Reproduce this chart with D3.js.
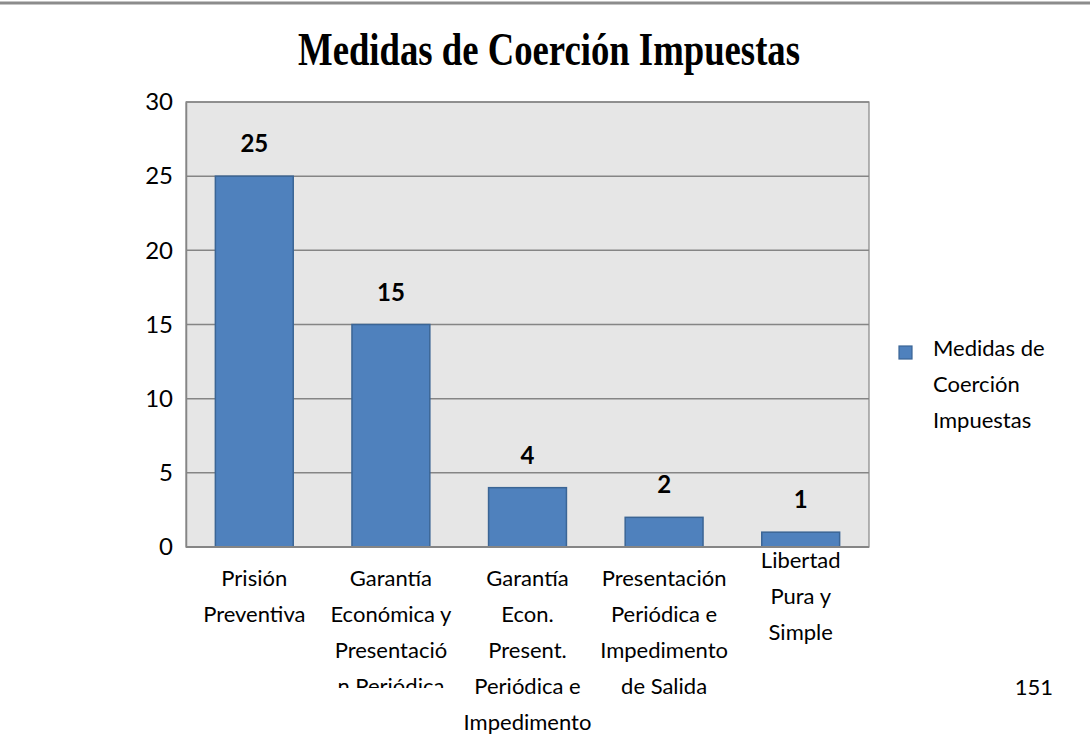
<!DOCTYPE html>
<html>
<head>
<meta charset="utf-8">
<script src="https://cdn.jsdelivr.net/npm/d3@7"></script>
<style>
	body { margin: 0; background: #fff; }
	text { font-family: Lato, 'Noto Sans', sans-serif; fill: #000; }
</style>
</head>
<body>
<div id="canvas"></div>
<script>
// Data
const categoryLines = [
	['Prisión', 'Preventiva'],
	['Garantía', 'Económica y', 'Presentació', 'n Periódica'],
	['Garantía', 'Econ.', 'Present.', 'Periódica e', 'Impedimento'],
	['Presentación', 'Periódica e', 'Impedimento', 'de Salida'],
	['Libertad', 'Pura y', 'Simple'],
]
const values = [25, 15, 4, 2, 1]
const yTicks = [0, 5, 10, 15, 20, 25, 30]
const seriesName = ['Medidas de', 'Coerción', 'Impuestas']
const chartTitle = 'Medidas de Coerción Impuestas'
const pageNumber = '151'

const colors = {
	plot: '#e6e6e6',
	grid: '#858585',
	bar: '#4f81bd',
	barStroke: '#3b6595',
	rule: '#8c8c8c',
}

const width = 1090, height = 740
const plot = {left: 186, right: 869, top: 102, bottom: 547}

const svg = d3.select('#canvas').append('svg')
	.attr('width', width).attr('height', height)

// page rule at the top
svg.append('line')
	.attr('x1', 0).attr('x2', width).attr('y1', 3).attr('y2', 3)
	.attr('stroke', colors.rule).attr('stroke-width', 3)

const x = d3.scaleBand()
	.domain(d3.range(values.length))
	.range([plot.left, plot.right])
	.paddingInner(0.43).paddingOuter(0.215)

const y = d3.scaleLinear().domain([0, 30]).range([plot.bottom, plot.top])

// plot background
svg.append('rect')
	.attr('x', plot.left).attr('y', plot.top)
	.attr('width', plot.right - plot.left).attr('height', plot.bottom - plot.top)
	.attr('fill', colors.plot)
	.attr('stroke', colors.grid).attr('stroke-width', 1.2)

// gridlines
svg.append('g').selectAll('line')
	.data(yTicks.filter(t => t > 0)).enter()
	.append('line')
	.attr('x1', plot.left).attr('x2', plot.right)
	.attr('y1', d => y(d)).attr('y2', d => y(d))
	.attr('stroke', colors.grid).attr('stroke-width', 1.5)

// y axis
const yAxis = svg.append('g')
	.attr('transform', `translate(${plot.left},0)`)
	.call(d3.axisLeft(y).tickValues(yTicks).tickSize(0).tickPadding(13))
yAxis.attr('font-size', null).attr('font-family', null)
yAxis.select('.domain').attr('stroke', colors.grid).attr('stroke-width', 1.5)
yAxis.selectAll('text')
	.style('font-family', 'Lato, sans-serif')
	.style('font-size', '24px')
	.attr('fill', '#000')

// bars
svg.append('g').selectAll('rect')
	.data(values).enter()
	.append('rect')
	.attr('x', (d, i) => x(i))
	.attr('y', d => y(d))
	.attr('width', x.bandwidth())
	.attr('height', d => y(0) - y(d))
	.attr('fill', colors.bar)
	.attr('stroke', colors.barStroke).attr('stroke-width', 1.5)

// value labels
svg.append('g').selectAll('text')
	.data(values).enter()
	.append('text')
	.attr('x', (d, i) => x(i) + x.bandwidth() / 2)
	.attr('y', d => y(d) - 24)
	.attr('text-anchor', 'middle')
	.attr('font-size', 24)
	.attr('font-weight', 'bold')
	.text(d => d)

// x axis line
svg.append('line')
	.attr('x1', plot.left).attr('x2', plot.right)
	.attr('y1', plot.bottom).attr('y2', plot.bottom)
	.attr('stroke', colors.grid).attr('stroke-width', 2)

// category labels (second one is cut off like in the original)
svg.append('clipPath').attr('id', 'cut')
	.append('rect').attr('x', 0).attr('y', 0).attr('width', width).attr('height', 688)

const catGroup = svg.append('g').selectAll('g')
	.data(categoryLines).enter()
	.append('g')
	.attr('clip-path', (d, i) => i === 1 ? 'url(#cut)' : null)

catGroup.append('text')
	.attr('text-anchor', 'middle')
	.attr('font-size', 22)
	.each(function (lines, i) {
		const cx = x(i) + x.bandwidth() / 2
		const top = lines.length === 3 ? 568 : 586
		d3.select(this).selectAll('tspan')
			.data(lines).enter()
			.append('tspan')
			.attr('x', cx)
			.attr('y', (l, j) => top + j * 36)
			.text(l => l)
	})

// legend
const legend = svg.append('g')
legend.append('rect')
	.attr('x', 899).attr('y', 346).attr('width', 13).attr('height', 13)
	.attr('fill', colors.bar).attr('stroke', colors.barStroke).attr('stroke-width', 1.2)
legend.append('text')
	.attr('font-size', 22)
	.selectAll('tspan')
	.data(seriesName).enter()
	.append('tspan')
	.attr('x', 933)
	.attr('y', (d, i) => 356 + i * 36)
	.text(d => d)

// title
svg.append('text')
	.attr('x', 549).attr('y', 65)
	.attr('text-anchor', 'middle')
	.style('font-family', "'Liberation Serif', 'Times New Roman', serif")
	.attr('font-size', 46)
	.attr('font-weight', 'bold')
	.attr('textLength', 502)
	.attr('lengthAdjust', 'spacingAndGlyphs')
	.text(chartTitle)

// page number
svg.append('text')
	.attr('x', 1053).attr('y', 695)
	.attr('text-anchor', 'end')
	.attr('font-size', 22)
	.text(pageNumber)
</script>
</body>
</html>
